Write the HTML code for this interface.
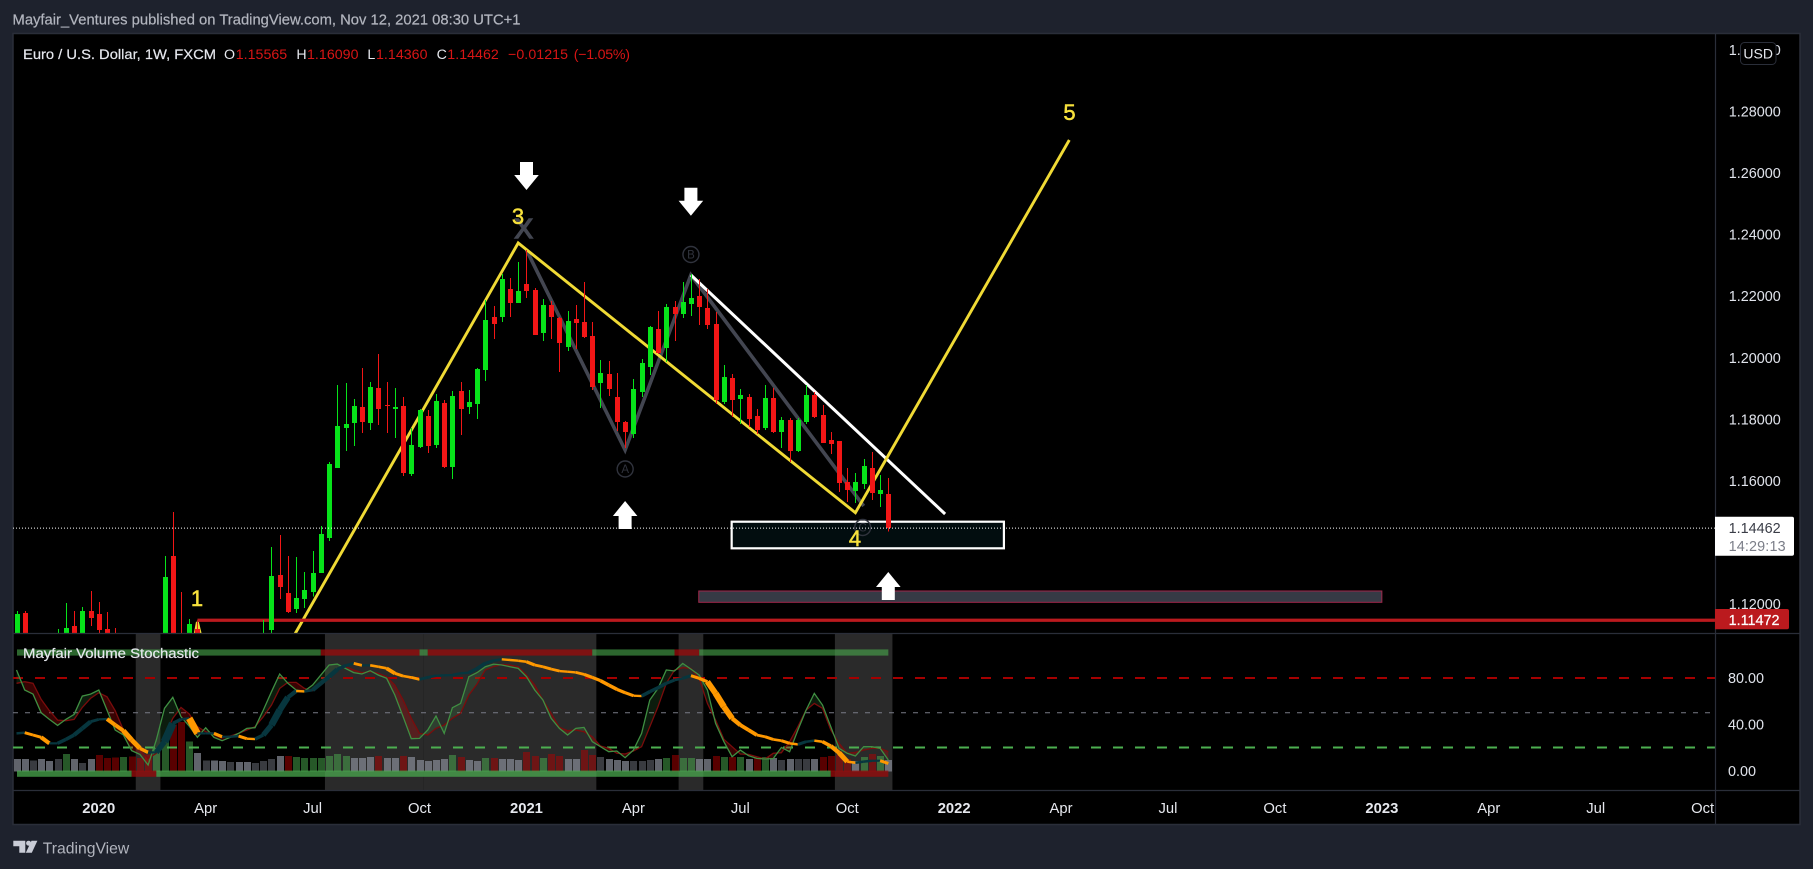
<!DOCTYPE html>
<html lang="en">
<head>
<meta charset="utf-8">
<title>EUR/USD weekly chart</title>
<style>
html,body{margin:0;padding:0;background:#1e222d;width:1813px;height:869px;overflow:hidden}
svg{display:block}
text{font-family:"Liberation Sans",sans-serif}
</style>
</head>
<body>
<svg id="root" xmlns="http://www.w3.org/2000/svg" width="1813" height="869" viewBox="0 0 1813 869">
  <defs>
    <clipPath id="mainClip"><rect x="13" y="34" width="1702" height="599"/></clipPath>
    <clipPath id="indClip"><rect x="13" y="634" width="1702" height="156"/></clipPath>
  </defs>
  <rect x="0" y="0" width="1813" height="869" fill="#1e222d"/>
  <text x="12.5" y="24.5" font-size="14.4" fill="#b2b5be" stroke="#b2b5be" stroke-width=".2" textLength="508" lengthAdjust="spacingAndGlyphs">Mayfair_Ventures published on TradingView.com, Nov 12, 2021 08:30 UTC+1</text>
  <rect x="13" y="33.5" width="1787" height="791" fill="#000" stroke="#2a2e39" stroke-width="1.5"/>

  <g id="mainDrawingsBack" clip-path="url(#mainClip)"></g>
  <g id="candles" clip-path="url(#mainClip)"></g>
  <g id="mainDrawingsFront" clip-path="url(#mainClip)">
    <text x="518" y="224" font-size="22" fill="#f7e13c" stroke="#f7e13c" stroke-width=".5" text-anchor="middle">3</text>
    <text x="855" y="546" font-size="22" fill="#f7e13c" stroke="#f7e13c" stroke-width=".5" text-anchor="middle">4</text>
    <text x="1069.5" y="120" font-size="22" fill="#f7e13c" stroke="#f7e13c" stroke-width=".5" text-anchor="middle">5</text>
    <text x="197" y="606" font-size="22" fill="#f7e13c" stroke="#f7e13c" stroke-width=".5" text-anchor="middle">1</text>
  </g>

  <g id="indicator" clip-path="url(#indClip)"></g>

  <line x1="13" y1="633.5" x2="1800" y2="633.5" stroke="#2a2e39" stroke-width="1.2"/>
  <line x1="13" y1="790.5" x2="1800" y2="790.5" stroke="#2a2e39" stroke-width="1.2"/>
  <line x1="1715.5" y1="34" x2="1715.5" y2="824" stroke="#2a2e39" stroke-width="1.2"/>

  <g id="priceAxis"></g>
  <g id="indAxis"></g>
  <g id="timeAxis"></g>

  <g font-size="14.2">
    <text x="23" y="59" fill="#e6e8ee" stroke="#e6e8ee" stroke-width=".2" textLength="193" lengthAdjust="spacingAndGlyphs">Euro / U.S. Dollar, 1W, FXCM</text>
    <text x="224" y="59" fill="#e6e8ee">O</text>
    <text x="235.7" y="59" fill="#d81515" textLength="51.5">1.15565</text>
    <text x="296.4" y="59" fill="#e6e8ee">H</text>
    <text x="307" y="59" fill="#d81515" textLength="51.5">1.16090</text>
    <text x="367.4" y="59" fill="#e6e8ee">L</text>
    <text x="376" y="59" fill="#d81515" textLength="51.5">1.14360</text>
    <text x="436.6" y="59" fill="#e6e8ee">C</text>
    <text x="447.3" y="59" fill="#d81515" textLength="51.5">1.14462</text>
    <text x="508" y="59" fill="#d81515" textLength="60">−0.01215</text>
    <text x="573.7" y="59" fill="#d81515" textLength="56.3">(−1.05%)</text>
  </g>

  <text x="23" y="658" font-size="14.2" fill="#e6e8ee" stroke="#e6e8ee" stroke-width=".2" textLength="176" lengthAdjust="spacingAndGlyphs">Mayfair Volume Stochastic</text>

  <rect x="1740.5" y="42.5" width="35.5" height="22" rx="4" fill="#000" stroke="#2a2e39"/>
  <text x="1758.2" y="58.5" font-size="14" fill="#e6e8ee" text-anchor="middle">USD</text>

  <path d="M1715 516.7H1792a2 2 0 0 1 2 2V553.7a2 2 0 0 1-2 2H1715Z" fill="#fff"/>
  <text x="1728.6" y="533" font-size="14.4" fill="#3a3d47">1.14462</text>
  <text x="1728.6" y="551" font-size="14.4" fill="#7b7e88" textLength="57">14:29:13</text>
  <path d="M1715 609H1787a2 2 0 0 1 2 2V627.3a2 2 0 0 1-2 2H1715Z" fill="#bb1a1e"/>
  <text x="1728.6" y="625" font-size="14.4" fill="#fff" stroke="#fff" stroke-width=".2">1.11472</text>

  <g>
    <path d="M13.3 840.7H25.3V852.7H19.3V846.2H13.3Z" fill="#c9ccd6"/>
    <circle cx="28.6" cy="843.2" r="2.5" fill="#c9ccd6"/>
    <path d="M31.5 840.7H37.4L31.8 852.7H25.8Z" fill="#c9ccd6"/>
    <text x="42.7" y="853.5" font-size="16" fill="#b2b5be" textLength="86.6" lengthAdjust="spacingAndGlyphs">TradingView</text>
  </g>
</svg>

<script>
// ---------- Candle data (weekly bars, first bar = week of 2019-10-28) ----------
const opens = [1.1040,1.11708,1.1050,1.1025,1.1040,1.1030,1.1060,1.11286,1.1060,1.11773,1.11675,1.11188,1.1060,1.1040,1.1080,1.1030,1.0990,1.0900,1.0850,1.13558,1.1060,1.0780,1.11188,1.0860,1.0800,1.0880,1.0820,1.0860,1.0800,1.0900,1.1000,1.11156,1.12942,1.12357,1.11838,1.12162,1.12390,1.13007,1.14143,1.16416,1.17715,1.17877,1.18396,1.17877,1.19013,1.18461,1.18331,1.18429,1.16221,1.17098,1.18104,1.17163,1.18526,1.16448,1.18916,1.18396,1.18494,1.19598,1.21319,1.21319,1.22228,1.21773,1.22390,1.22195,1.20799,1.21708,1.21286,1.20345,1.21254,1.21156,1.20702,1.19176,1.19468,1.18721,1.17909,1.17520,1.18883,1.19695,1.20929,1.20312,1.21643,1.21416,1.21741,1.22001,1.21611,1.21091,1.18559,1.19338,1.18656,1.18721,1.18104,1.17715,1.18689,1.17585,1.17974,1.16968,1.17909,1.18786,1.18137,1.17325,1.17293,1.15961,1.15669,1.15896,1.16416,1.15572,1.15565];
const highs = [1.11773,1.11773,1.1080,1.1060,1.1090,1.11188,1.12032,1.11773,1.11903,1.12422,1.12065,1.11740,1.11221,1.1090,1.1095,1.1050,1.1000,1.0950,1.13558,1.14987,1.12390,1.11513,1.11351,1.1000,1.0950,1.0990,1.0900,1.0890,1.0970,1.1050,1.11480,1.13851,1.14240,1.13558,1.13526,1.13039,1.13721,1.14533,1.16611,1.19111,1.19176,1.18656,1.19663,1.19208,1.20117,1.19208,1.19013,1.18721,1.17715,1.18331,1.18299,1.18818,1.18624,1.18916,1.19208,1.18948,1.19663,1.21870,1.21676,1.22715,1.22585,1.23104,1.23494,1.22260,1.21903,1.21838,1.21319,1.21513,1.21708,1.22455,1.21156,1.19922,1.19890,1.19500,1.17942,1.19306,1.19955,1.21026,1.21513,1.21741,1.21838,1.22455,1.22715,1.22552,1.22228,1.21481,1.19760,1.19468,1.18981,1.18818,1.18331,1.19111,1.19013,1.18072,1.18039,1.18039,1.19111,1.18883,1.18461,1.17585,1.17293,1.16416,1.16253,1.16708,1.16935,1.16188,1.16090];
const lows = [1.1030,1.1040,1.1010,1.1000,1.0990,1.1010,1.1040,1.1040,1.1050,1.11286,1.1100,1.1045,1.1020,1.1020,1.1000,1.0980,1.0880,1.0800,1.0780,1.0640,1.0640,1.0720,1.0780,1.0780,1.0760,1.0800,1.0770,1.0780,1.0780,1.0870,1.0990,1.1100,1.12162,1.11708,1.11708,1.11870,1.12250,1.13007,1.14046,1.16416,1.16968,1.17130,1.17552,1.17650,1.17812,1.17552,1.17390,1.16156,1.16156,1.17065,1.16903,1.17065,1.16416,1.16059,1.17487,1.18169,1.18007,1.19241,1.20604,1.21156,1.21319,1.21773,1.21936,1.20734,1.20539,1.20604,1.19533,1.20215,1.20280,1.20637,1.18948,1.18364,1.18754,1.17617,1.17065,1.17390,1.18721,1.19435,1.20117,1.19857,1.20539,1.21286,1.21351,1.21059,1.20929,1.18494,1.18494,1.18072,1.17844,1.17747,1.17520,1.17650,1.17552,1.17065,1.16611,1.16935,1.17844,1.18039,1.17228,1.16870,1.15637,1.15312,1.15279,1.15734,1.15377,1.15149,1.14360];
const closes = [1.11675,1.1050,1.1025,1.1040,1.1000,1.1085,1.11221,1.1060,1.11773,1.11545,1.11156,1.1060,1.1040,1.1080,1.1030,1.0990,1.0900,1.0840,1.12877,1.0660,1.0800,1.11351,1.0850,1.0800,1.0880,1.0820,1.0860,1.0800,1.0900,1.1000,1.1090,1.12909,1.12552,1.11740,1.12195,1.12455,1.13007,1.14273,1.16546,1.17779,1.17844,1.18429,1.17909,1.19046,1.18331,1.18429,1.18396,1.16253,1.17163,1.18299,1.17130,1.18591,1.16448,1.18754,1.18331,1.18559,1.19630,1.21221,1.21091,1.22552,1.21773,1.22163,1.22163,1.20734,1.21708,1.21319,1.20474,1.21188,1.21124,1.20669,1.19046,1.19500,1.18981,1.17909,1.17585,1.18981,1.19825,1.20994,1.20150,1.21643,1.21416,1.21806,1.21936,1.21643,1.21059,1.18624,1.19370,1.18624,1.18786,1.18007,1.17650,1.18689,1.17585,1.17974,1.16968,1.17974,1.18786,1.18072,1.17228,1.17195,1.15929,1.15701,1.15961,1.16481,1.15604,1.15701,1.14462];

// ---------- Axis ticks ----------
const priceTicks = [1.30,1.28,1.26,1.24,1.22,1.20,1.18,1.16,1.12];
const timeTickBars = [10,23,36,49,62,75,88,101,114,127,140,153,166,179,192,205];
const timeTickLabels = ['2020','Apr','Jul','Oct','2021','Apr','Jul','Oct','2022','Apr','Jul','Oct','2023','Apr','Jul','Oct'];
const indicatorTicks = [80,40,0];
const lastPrice = 1.14462;
const supportPrice = 1.11472;

// ---------- Drawings in bar / price coordinates ----------
const yellowWaveBars = [32.05,61,102,128];
const yellowWavePrices = [1.10182,1.23721,1.14964,1.27065];
const yellowStubBars = [21.3,22,22.9];
const yellowStubPrices = [1.1040,1.11416,1.1040];
const abcBars = [62,74,82,103];
const abcPrices = [1.23494,1.17,1.22682,1.15182];
const trendBars = [82,112.9];
const trendPrices = [1.22682,1.14922];
const zoneBars = [86.95,120.05];
const zonePrices = [1.14672,1.13808];
const lowerZoneBars = [82.95,166];
const lowerZonePrices = [1.12422,1.12055];
const supportStartBar = 22;
const arrowBars = [62,82,74,106];
const arrowTipPrices = [1.25442,1.24607,1.15344,1.13039];
const arrowDirections = ['down','down','up','up'];

// ---------- Indicator data ----------
const volumeValues = [9.2,9.2,8,9.2,7.5,9.2,13.5,9.2,5.8,9.2,12.7,10.1,10.6,11,11.5,10.1,12.9,18.7,26.7,38.8,41.2,24.2,14.4,8,8,7.5,6.6,6.6,6.6,5.8,7.5,9.2,11.8,11.8,11,10.1,10.1,10.1,11.8,13.5,11.8,10.1,10.1,11,11.8,10.1,10.1,11.8,11,8.4,7.5,8.4,9.2,12.7,11,8.4,7.5,10.1,10.1,9.2,9.2,8.4,15.3,11.8,10.1,13.5,11.8,9.2,9.2,17,12.7,11,9.2,8.4,7.5,7.5,7.5,8.4,9.2,10.1,12.7,10.1,10.1,9.2,9.2,11.8,11,11,11,9.2,10.1,11,10.1,8.4,9.2,9.2,9.2,9.2,11,11.8,12.7,9.2,7.5,11,13.5,11.8,8.4];
const volumeStates = ['n','n','l','n','n','l','u','n','l','n','d','d','d','u','d','d','d','u','u','d','d','u','n','l','n','n','l','n','n','l','l','l','n','d','u','u','u','u','u','u','u','n','n','n','d','n','n','d','n','n','n','n','n','u','d','n','n','u','d','n','n','n','d','d','u','d','d','n','n','d','d','l','n','n','n','l','l','l','n','u','d','u','u','n','n','d','u','d','u','n','d','u','n','l','n','l','l','n','d','d','d','d','n','u','d','u','n'];
const fastK = [86.9,69.6,66.1,50,44.3,39.1,44.3,48.6,64.4,66.1,69.6,52.3,35.1,30.8,17.3,14.1,4.9,26.5,53.8,63.3,46.6,38.5,28.8,37.1,28.8,25.9,28.8,32.2,36.5,37.1,52.3,68.2,83.4,75.4,69.6,68.7,73.9,82.5,91.2,92,88.3,84.6,83.4,86.3,82.5,79.7,65.3,46.6,27.6,27.9,35.1,47.2,32.2,54.4,58.1,81.1,84.6,89.7,92,91.2,89.7,88.3,81.1,69.6,61,45.2,36.5,30.8,36.5,37.4,25,20.7,16.4,17,11.2,17.8,32.2,61,71,86.9,86,92.6,87.7,82.5,69.6,40.8,25,12.1,17.8,12.9,10.6,10.1,10.4,20.1,16.4,35.1,52.3,66.7,56.7,38,19.3,15,12.7,20.7,20.7,19.3,9.2];
const slowD = [75.4,76.8,75.4,61.5,51.8,43.7,43.1,44.3,54.6,62.4,67.3,63.8,51.8,35.1,25,17.8,10.6,15,29.3,45.2,54.6,48.9,38,33.6,32.2,28.8,29.9,32.2,35.1,38,46.6,56.7,71,76.2,76.2,71,69,73.9,79.7,86.9,89.7,86.9,84.6,85.4,84,81.1,73.9,61,45.2,32.2,30.8,36.5,39.4,45.2,49.5,65.3,74.8,86.9,89.7,91.7,91.2,89.7,82.5,73.9,61,49.5,37.4,34.5,35.1,33.6,29.3,21.3,19.3,15,14.4,17,20.7,38,55.2,75.4,86.9,88.9,88.3,79.7,58.1,43.7,27,20.7,14.4,14.1,12.1,10.1,15,15.5,25,38,52.3,58.1,53.8,35.1,23.6,15,15.8,17.8,19.3,19.3,16.4];
const signalLine = [32.2,32.8,30.8,28.8,23.6,23.6,27,30.8,36.5,42.3,44.3,44.6,39.4,34.5,26.5,19.3,15.8,15.8,25,40.8,44.3,45.2,32.2,32.2,32.2,29.3,29.3,29.9,27.6,27.3,30.8,39.4,52.3,63.3,68.7,68.4,69.6,75.4,81.1,87.4,90.6,92.6,90.9,90.9,89.7,88.3,84,81.7,80.5,78.8,80.5,82,82.3,82.5,84,84.6,88,92.6,94.9,96.1,95.5,94.9,94,91.2,89.7,87.7,86,85.4,84.8,83.1,80.5,77.7,73.9,70.2,67.3,64.7,64.4,68.2,71.6,75.4,78.2,79.7,82,79.7,76.8,66.7,55.2,45.2,39.4,35.1,30.8,29.3,27,25.9,23.6,22.7,25,25.9,25,21.3,15.5,7.8,6.9,7.8,8.6,8.6,6.3];
const levelValues = [80,50,20];
const levelKinds = ['overbought','middle','oversold'];
const shadedRangeStarts = [15,38,50,81,100];
const shadedRangeEnds = [17,49,70,83,106];
const topStateEnds = [37,49,50,70,80,83,106];
const topStates = ['up','down','up','down','up','down','up'];
const bottomStateEnds = [14,17,99,106];
const bottomStates = ['up','down','up','down'];

// ---------- Axis functions ----------
const X = i => 16.5 + 8.225 * i;
const Y = p => 604 - (p - 1.12) * 3080;
const S = v => 770.7 - 1.159 * v;
const NS = 'http://www.w3.org/2000/svg';
function make(tag, parent, attrs, txt) {
  const el = document.createElementNS(NS, tag);
  for (const k in attrs) el.setAttribute(k, attrs[k]);
  if (txt !== undefined) el.textContent = txt;
  parent.appendChild(el);
  return el;
}
function pts(bars, prices) { return bars.map((b, i) => X(b).toFixed(1) + ',' + Y(prices[i]).toFixed(1)).join(' '); }

// ---------- Main pane drawings (behind candles) ----------
const back = document.getElementById('mainDrawingsBack');

const lowerZone = make('rect', back, {x: X(lowerZoneBars[0]), y: Y(lowerZonePrices[0]), width: X(lowerZoneBars[1]) - X(lowerZoneBars[0]), height: Y(lowerZonePrices[1]) - Y(lowerZonePrices[0]), fill: '#363a45', stroke: '#a0284c', 'stroke-width': 1});



const zone = make('rect', back, {x: X(zoneBars[0]), y: Y(zonePrices[0]), width: X(zoneBars[1]) - X(zoneBars[0]), height: Y(zonePrices[1]) - Y(zonePrices[0]), fill: '#020d0f', stroke: '#fff', 'stroke-width': 2.2});



const abcLine = make('polyline', back, {points: pts(abcBars, abcPrices), fill: 'none', stroke: '#434651', 'stroke-width': 3.6});



const trendLine = make('polyline', back, {points: pts(trendBars, trendPrices), fill: 'none', stroke: '#fff', 'stroke-width': 3});



const yellowWave = make('polyline', back, {points: pts(yellowWaveBars, yellowWavePrices), fill: 'none', stroke: '#f0da35', 'stroke-width': 2.9});



const yellowStub = make('polyline', back, {points: pts(yellowStubBars, yellowStubPrices), fill: 'none', stroke: '#f0da35', 'stroke-width': 2.9});



const supportLine = make('line', back, {x1: X(supportStartBar), x2: 1715, y1: Y(supportPrice), y2: Y(supportPrice), stroke: '#bb1a1e', 'stroke-width': 3.3});



const supportTick = make('line', back, {x1: X(supportStartBar), x2: X(supportStartBar), y1: Y(supportPrice), y2: 633, stroke: '#bb1a1e', 'stroke-width': 1});



const xLabel = make('text', back, {x: X(abcBars[0]) - 2.7, y: Y(abcPrices[0]) - 12, 'font-size': 28, fill: '#434651', stroke: '#434651', 'stroke-width': 1.4, 'text-anchor': 'middle'}, 'X');



// Circled wave letters
const circleLetters = ['A','B','C'];
const circleOffsets = [19, -20.5, 21.5];
circleLetters.forEach((letter, n) => {
  const cx = X(abcBars[n + 1]) - (n === 2 ? 1 : 0);
  const cy = Y(abcPrices[n + 1]) + circleOffsets[n];
  const ring = make('circle', back, {cx: cx, cy: cy, r: 8, fill: 'none', stroke: '#30333d', 'stroke-width': 1.4});
  
  
  const t = make('text', back, {x: cx, y: cy + 4, 'font-size': 11.5, fill: '#30333d', 'text-anchor': 'middle'}, letter);
  
  
});

// ---------- Candles ----------
const candleLayer = document.getElementById('candles');
opens.forEach((o, i) => {
  const up = closes[i] >= o;
  const col = up ? '#07e31a' : '#f21616';
  const cx = Math.round(X(i));
  const g = make('g', candleLayer, {'shape-rendering': 'crispEdges'});
  
  
  const wick = make('rect', g, {x: cx, y: Y(highs[i]), width: 1, height: Y(lows[i]) - Y(highs[i]), fill: col});
  
  
  const top = Y(Math.max(o, closes[i]));
  const bot = Y(Math.min(o, closes[i]));
  const body = make('rect', g, {x: cx - 2, y: top, width: 5, height: Math.max(1, bot - top), fill: col});
  
  
});

// ---------- Overlays on top of candles ----------
const front = document.getElementById('mainDrawingsFront');
const lastLine = make('line', front, {x1: 13, x2: 1715, y1: Y(lastPrice), y2: Y(lastPrice), stroke: '#fff', 'stroke-width': 1, 'stroke-dasharray': '1 2'});



arrowBars.forEach((b, n) => {
  const cx = X(b);
  const tip = Y(arrowTipPrices[n]);
  const s = arrowDirections[n] === 'up' ? 1 : -1;
  const d = [[0,0],[12.3,15*s],[6.5,15*s],[6.5,28*s],[-6.5,28*s],[-6.5,15*s],[-12.3,15*s]]
    .map(p => (cx + p[0]).toFixed(1) + ',' + (tip + p[1]).toFixed(1)).join(' ');
  const arrow = make('polygon', front, {points: d, fill: '#fff'});
  
  
});

// ---------- Indicator pane ----------
const ind = document.getElementById('indicator');
shadedRangeStarts.forEach((start, n) => {
  const band = make('rect', ind, {x: X(start) - 4.1, y: 634, width: X(shadedRangeEnds[n]) - X(start) + 8.2, height: 156, fill: '#2a2a2a'});
  
  
});

const volFill = {u: 'rgb(76,175,80)', d: 'rgb(178,0,0)', n: 'rgb(135,138,150)', l: 'rgb(120,123,134)'};
const volOpacity = {u: .5, d: .5, n: .72, l: .48};
volumeValues.forEach((v, i) => {
  const y = S(v + 0.87);
  const st = volumeStates[i];
  const bar = make('rect', ind, {x: Math.round(X(i)) - 3, y: y, width: 7, height: 771.7 - y, fill: volFill[st], 'fill-opacity': volOpacity[st], 'shape-rendering': 'crispEdges'});
  
  
});

levelValues.forEach((v, n) => {
  const kind = levelKinds[n];
  const style = kind === 'overbought' ? {stroke: '#a50000', w: 2, d: '10 12'} : kind === 'oversold' ? {stroke: '#4caf50', w: 2, d: '10 12'} : {stroke: '#787b86', w: 1, d: '5 7'};
  const lv = make('line', ind, {x1: 13, x2: 1715, y1: S(v), y2: S(v), stroke: style.stroke, 'stroke-width': style.w, 'stroke-dasharray': style.d});
  
  
});

// Fill between the fast and slow lines
for (let i = 0; i < fastK.length - 1; i++) {
  const above = fastK[i] + fastK[i + 1] >= slowD[i] + slowD[i + 1];
  const q = [[X(i), S(fastK[i])], [X(i + 1), S(fastK[i + 1])], [X(i + 1), S(slowD[i + 1])], [X(i), S(slowD[i])]]
    .map(p => p[0].toFixed(1) + ',' + p[1].toFixed(1)).join(' ');
  const quad = make('polygon', ind, {points: q, fill: above ? 'rgba(76,175,80,.16)' : 'rgba(190,10,10,.3)'});
  
  
}

function seriesPoints(arr) { return arr.map((v, i) => X(i).toFixed(1) + ',' + S(v).toFixed(1)).join(' '); }

const slowPath = make('polyline', ind, {points: seriesPoints(slowD), fill: 'none', stroke: '#7a0c0c', 'stroke-width': 1.3});



const fastPath = make('polyline', ind, {points: seriesPoints(fastK), fill: 'none', stroke: '#3f8f42', 'stroke-width': 1.3});



for (let i = 0; i < signalLine.length - 1; i++) {
  const dv = signalLine[i + 1] - signalLine[i];
  const seg = make('line', ind, {x1: X(i), y1: S(signalLine[i]), x2: X(i + 1), y2: S(signalLine[i + 1]), stroke: dv < 0 ? '#ff9800' : '#07363e', 'stroke-width': (2.2 + Math.abs(dv) * 0.36).toFixed(2), 'stroke-linecap': 'butt'});
  
  
}

function drawStateBar(ends, states, yTop, name, upAlpha) {
  let from = 17;
  ends.forEach((end, n) => {
    const to = X(end);
    const isUp = states[n] === 'up';
    const r = make('rect', ind, {x: from, y: yTop, width: to - from, height: 6.2, fill: isUp ? 'rgba(76,175,80,' + upAlpha + ')' : 'rgba(150,12,12,.78)'});
    
    
    from = to;
  });
}
drawStateBar(topStateEnds, topStates, 649.4, 'trend-state-top-segment', .58);
drawStateBar(bottomStateEnds, bottomStates, 770.6, 'trend-state-bottom-segment', .72);

// ---------- Axes ----------
const priceAxis = document.getElementById('priceAxis');
priceTicks.forEach(p => {
  const t = make('text', priceAxis, {x: 1728.7, y: Y(p) + 5.2, 'font-size': 14.4, fill: '#e0e3eb'}, p.toFixed(5));
  
  
});
const indAxis = document.getElementById('indAxis');
indicatorTicks.forEach(v => {
  const t = make('text', indAxis, {x: 1728, y: S(v) + 5.2, 'font-size': 14.4, fill: '#e0e3eb'}, v.toFixed(2));
  
  
});
const timeAxis = document.getElementById('timeAxis');
timeTickBars.forEach((b, n) => {
  const label = timeTickLabels[n];
  const isYear = /^\d+$/.test(label);
  const t = make('text', timeAxis, {x: X(b), y: 813, 'font-size': 14.8, 'font-weight': isYear ? 'bold' : 'normal', fill: '#e6e8ee', 'text-anchor': 'middle'}, label);
  
  
});
</script>
</body>
</html>
